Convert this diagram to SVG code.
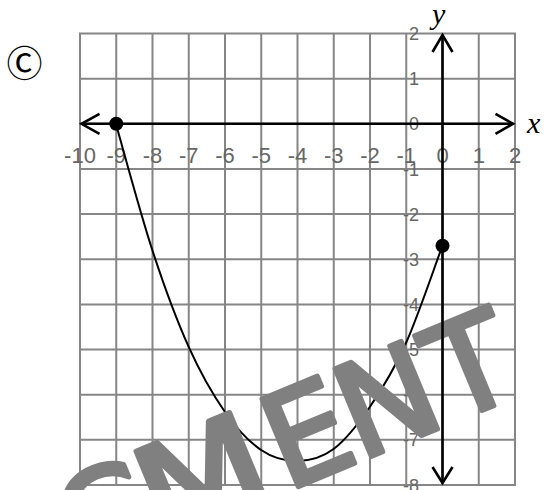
<svg xmlns="http://www.w3.org/2000/svg" width="547" height="490" viewBox="0 0 547 490">
<style>
.grid line{stroke:#868686;stroke-width:2}
.xl{font-family:"Liberation Sans",Arial,sans-serif;font-size:22px;fill:#666;text-anchor:middle}
.yl{font-family:"Liberation Sans",Arial,sans-serif;font-size:18px;fill:#666;text-anchor:end}
.axis{stroke:#000;stroke-width:2.6;fill:none}
.curve{stroke:#000;stroke-width:2;fill:none}
.var{font-family:"Liberation Serif","Times New Roman",serif;font-style:italic;font-size:30px;fill:#000}
.wm{font-family:"DejaVu Sans",sans-serif;font-size:130px;fill:#808080;stroke:#808080;stroke-width:5;stroke-linejoin:round}
</style>
<rect width="547" height="490" fill="#fff"/>
<g id="choice-label">
<text x="24.5" y="77" font-family="DejaVu Sans, 'Noto Sans CJK SC', sans-serif" font-size="36" text-anchor="middle" fill="#000">Ⓒ</text>
</g>
<g id="grid" class="grid">
<line x1="80" y1="33.5" x2="80" y2="485"/>
<line x1="116.25" y1="33.5" x2="116.25" y2="485"/>
<line x1="152.5" y1="33.5" x2="152.5" y2="485"/>
<line x1="188.75" y1="33.5" x2="188.75" y2="485"/>
<line x1="225" y1="33.5" x2="225" y2="485"/>
<line x1="261.25" y1="33.5" x2="261.25" y2="485"/>
<line x1="297.5" y1="33.5" x2="297.5" y2="485"/>
<line x1="333.75" y1="33.5" x2="333.75" y2="485"/>
<line x1="370" y1="33.5" x2="370" y2="485"/>
<line x1="406.25" y1="33.5" x2="406.25" y2="485"/>
<line x1="442.5" y1="33.5" x2="442.5" y2="485"/>
<line x1="478.75" y1="33.5" x2="478.75" y2="485"/>
<line x1="515" y1="33.5" x2="515" y2="485"/>
<line x1="79" y1="33.5" x2="516" y2="33.5"/>
<line x1="79" y1="78.65" x2="516" y2="78.65"/>
<line x1="79" y1="123.8" x2="516" y2="123.8"/>
<line x1="79" y1="168.95" x2="516" y2="168.95"/>
<line x1="79" y1="214.1" x2="516" y2="214.1"/>
<line x1="79" y1="259.25" x2="516" y2="259.25"/>
<line x1="79" y1="304.4" x2="516" y2="304.4"/>
<line x1="79" y1="349.55" x2="516" y2="349.55"/>
<line x1="79" y1="394.7" x2="516" y2="394.7"/>
<line x1="79" y1="439.85" x2="516" y2="439.85"/>
<line x1="79" y1="485" x2="516" y2="485"/>
</g>
<g id="x-labels">
<text class="xl" x="80" y="163">-10</text>
<text class="xl" x="116.25" y="163">-9</text>
<text class="xl" x="152.5" y="163">-8</text>
<text class="xl" x="188.75" y="163">-7</text>
<text class="xl" x="225" y="163">-6</text>
<text class="xl" x="261.25" y="163">-5</text>
<text class="xl" x="297.5" y="163">-4</text>
<text class="xl" x="333.75" y="163">-3</text>
<text class="xl" x="370" y="163">-2</text>
<text class="xl" x="406.25" y="163">-1</text>
<text class="xl" x="442.5" y="163">0</text>
<text class="xl" x="478.75" y="163">1</text>
<text class="xl" x="515" y="163">2</text>
</g>
<g id="y-labels">
<text class="yl" x="419" y="40">2</text>
<text class="yl" x="419" y="85.2">1</text>
<text class="yl" x="419" y="130.4">0</text>
<text class="yl" x="419" y="175.5">-1</text>
<text class="yl" x="419" y="220.7">-2</text>
<text class="yl" x="419" y="265.8">-3</text>
<text class="yl" x="419" y="311">-4</text>
<text class="yl" x="419" y="356.1">-5</text>
<text class="yl" x="419" y="401.3">-6</text>
<text class="yl" x="419" y="446.4">-7</text>
<text class="yl" x="419" y="491.6">-8</text>
</g>
<g id="connectors">
<path id="parabola" class="curve" d="M116,124.3 C122.05,145.25 140.2,212.93 152.3,250 C164.4,287.07 176.52,319.75 188.6,346.7 C200.68,373.65 212.72,394.48 224.8,411.7 C236.88,428.92 249.02,441.78 261.1,450 C273.18,458.22 285.22,461.17 297.3,461 C309.38,460.83 321.52,458 333.6,449 C345.68,440 357.73,424.67 369.8,407 C381.87,389.33 393.92,369.88 406,343 C418.08,316.12 436.25,261.92 442.5,245.7"/>
</g>
<g id="watermark" transform="translate(488,408) rotate(-22.5)">
<text class="wm" x="-442" y="0">C</text>
<text class="wm" x="-356" y="0" textLength="130" lengthAdjust="spacingAndGlyphs">M</text>
<text class="wm" x="-218" y="0">E</text>
<text class="wm" x="-139" y="0">N</text>
<text class="wm" x="-39.7" y="0">T</text>
</g>
<g id="axes">
<line class="axis" x1="82" y1="123.8" x2="512.5" y2="123.8"/>
<polyline class="axis" points="99.5,113.8 81.5,123.8 99.5,133.8"/>
<polyline class="axis" points="495.5,113.8 513,123.8 495.5,133.8"/>
<line class="axis" x1="442.5" y1="36" x2="442.5" y2="482"/>
<polyline class="axis" points="432.5,52 442.5,35 452.5,52"/>
<polyline class="axis" points="432.5,467 442.5,483 452.5,467"/>
<text class="var" x="527" y="133">x</text>
<text class="var" x="432" y="24">y</text>
</g>
<g id="point-a"><circle cx="116.25" cy="123.8" r="7" fill="#000"/></g>
<g id="point-b"><circle cx="442.5" cy="245.7" r="7" fill="#000"/></g>
</svg>
